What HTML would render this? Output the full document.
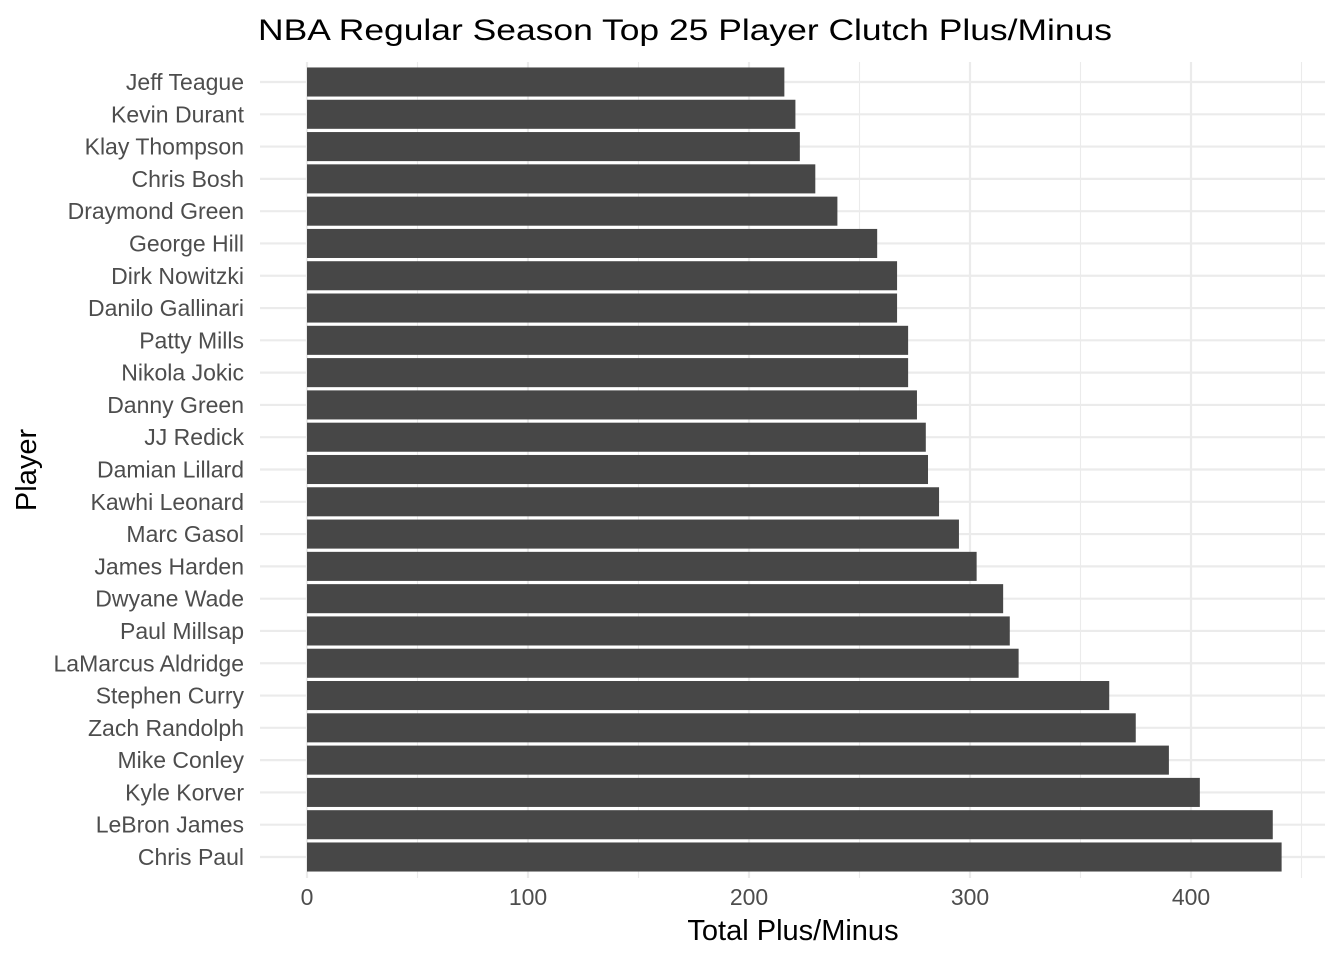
<!DOCTYPE html>
<html><head><meta charset="utf-8"><style>
html,body{margin:0;padding:0;background:#fff;}
svg{display:block;font-family:"Liberation Sans",Arial,sans-serif;}
</style></head><body>
<svg id="chart" width="1344" height="960">
<text x="258" y="40" font-size="30" textLength="854" lengthAdjust="spacingAndGlyphs" fill="#000">NBA Regular Season Top 25 Player Clutch Plus/Minus</text>
<g id="grid"></g><g id="bars"></g><g id="ylab"></g><g id="xlab"></g>
<text x="793" y="940" font-size="29" text-anchor="middle" fill="#000">Total Plus/Minus</text>
<text transform="translate(36,470) rotate(-90)" font-size="29" text-anchor="middle" fill="#000">Player</text>
</svg>
<script>
const players=["Jeff Teague","Kevin Durant","Klay Thompson","Chris Bosh","Draymond Green","George Hill","Dirk Nowitzki","Danilo Gallinari","Patty Mills","Nikola Jokic","Danny Green","JJ Redick","Damian Lillard","Kawhi Leonard","Marc Gasol","James Harden","Dwyane Wade","Paul Millsap","LaMarcus Aldridge","Stephen Curry","Zach Randolph","Mike Conley","Kyle Korver","LeBron James","Chris Paul"];
const values=[216,221,223,230,240,258,267,267,272,272,276,280,281,286,295,303,315,318,322,363,375,390,404,437,441];
const xTicks=[0,100,200,300,400];
const xMinor=[50,150,250,350,450];
const NS="http://www.w3.org/2000/svg";
const X=v=>307+v*2.21;
const step=(857-82)/24;
const Y=i=>82+i*step;
const bw=step*0.9;
function mk(tag,attrs,parent,text){const e=document.createElementNS(NS,tag);for(const k in attrs)e.setAttribute(k,attrs[k]);if(text!=null)e.textContent=text;document.getElementById(parent).appendChild(e);return e;}
const pTop=62,pBot=878,pLeft=260,pRight=1325;
xMinor.forEach(v=>{if(X(v)<=pRight){const l=mk("line",{x1:X(v),x2:X(v),y1:pTop,y2:pBot,stroke:"#ebebeb","stroke-width":1.1},"grid");

}});
xTicks.forEach(v=>{const l=mk("line",{x1:X(v),x2:X(v),y1:pTop,y2:pBot,stroke:"#ebebeb","stroke-width":2.2},"grid");


const t=mk("text",{x:X(v),y:905,"font-size":23,"text-anchor":"middle",fill:"#4d4d4d"},"xlab",String(v));

});
players.forEach((p,i)=>{const y=Y(i);
const g=mk("line",{x1:pLeft,x2:pRight,y1:y,y2:y,stroke:"#ebebeb","stroke-width":2.2},"grid");


const r=mk("rect",{x:X(0),y:y-bw/2,width:X(values[i])-X(0),height:bw,fill:"#474747"},"bars");


const t=mk("text",{x:244,y:y+8,"font-size":23,"text-anchor":"end",fill:"#4d4d4d"},"ylab",p);

});
</script>
</body></html>
